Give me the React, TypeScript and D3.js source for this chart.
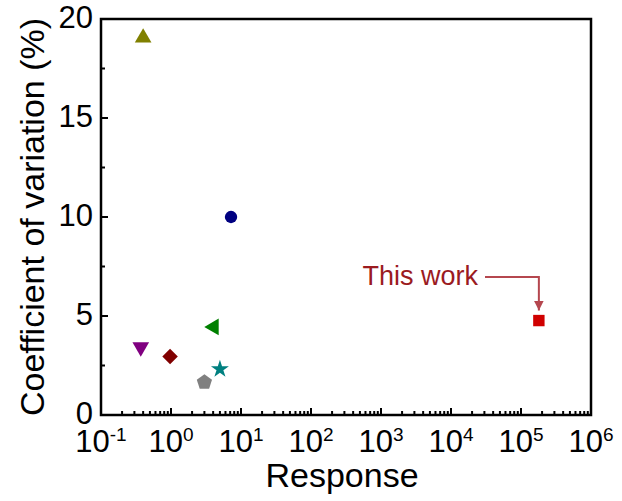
import React from "react";
import * as d3 from "d3";

// Reported coefficient of variation against response for each sensor
const responses = [0.4, 7.2, 4.1, 0.37, 0.97, 5.0, 3.0, 1.8e5];
const cvValues = [19.05, 10.0, 4.45, 3.43, 2.95, 2.32, 1.65, 4.77];
const shapes = ["triUp", "circle", "triLeft", "triDown", "diamond", "star", "pentagon", "square"];
const colors = ["#808000", "#000080", "#008000", "#800080", "#800000", "#008080", "#808080", "#d00000"];
const xDecades = [-1, 0, 1, 2, 3, 4, 5, 6];
const yTicks = [0, 5, 10, 15, 20];

const W = 622, H = 501;
const M = { left: 101, right: 591, top: 19, bottom: 415 };

const x = d3.scaleLog().domain([0.1, 1e6]).range([M.left, M.right]);
const y = d3.scaleLinear().domain([0, 20]).range([M.bottom, M.top]);

function pentagonPath(r: number) {
  const pts = d3.range(5).map((i) => {
    const a = -Math.PI / 2 + (i * 2 * Math.PI) / 5;
    return [r * Math.cos(a), r * Math.sin(a)];
  });
  return "M" + pts.map((p) => p.join(",")).join("L") + "Z";
}

function markerPath(shape: string) {
  switch (shape) {
    case "circle":
      return { d: d3.symbol(d3.symbolCircle, 120)()!, rot: 0 };
    case "triUp":
      return { d: d3.symbol(d3.symbolTriangle, 120)()!, rot: 0 };
    case "triDown":
      return { d: d3.symbol(d3.symbolTriangle, 120)()!, rot: 180 };
    case "triLeft":
      return { d: d3.symbol(d3.symbolTriangle, 120)()!, rot: -90 };
    case "diamond":
      return { d: d3.symbol(d3.symbolSquare, 120)()!, rot: 45 };
    case "star":
      return { d: d3.symbol(d3.symbolStar, 100)()!, rot: 0 };
    case "pentagon":
      return { d: pentagonPath(8), rot: 0 };
    default:
      return { d: d3.symbol(d3.symbolSquare, 130)()!, rot: 0 };
  }
}

export default function App() {
  const font = "'Liberation Sans', Arial, sans-serif";
  const minorX: number[] = [];
  for (let e = -1; e < 6; e++) for (let k = 2; k <= 9; k++) minorX.push(k * Math.pow(10, e));
  const minorY = [2.5, 7.5, 12.5, 17.5];

  const sx = x(1.8e5);
  const sy = y(4.77);
  const lineY = 277;

  return (
    <svg width={W} height={H} style={{ position: "absolute", left: 0, top: 0, background: "#fff" }}>
      <defs>
        <marker
          id="arrowHead"
          viewBox="0 0 10 10"
          refX="10"
          refY="5"
          markerWidth="10"
          markerHeight="10"
          markerUnits="userSpaceOnUse"
          orient="auto"
        >
          <path d="M0,0L10,5L0,10Z" fill="#b5474f" />
        </marker>
      </defs>
      {/* ticks */}
      <g stroke="#000" strokeWidth={2}>
        {xDecades.map((e) => (
          <line key={"xM" + e} x1={x(Math.pow(10, e))} x2={x(Math.pow(10, e))} y1={M.bottom} y2={M.bottom - 7} />
        ))}
        {minorX.map((v, i) => (
          <line key={"xm" + i} x1={x(v)} x2={x(v)} y1={M.bottom} y2={M.bottom - 4} />
        ))}
        {yTicks.map((v) => (
          <line key={"yM" + v} x1={M.left} x2={M.left + 7} y1={y(v)} y2={y(v)} />
        ))}
        {minorY.map((v) => (
          <line key={"ym" + v} x1={M.left} x2={M.left + 4} y1={y(v)} y2={y(v)} />
        ))}
      </g>
      <rect x={M.left} y={M.top} width={M.right - M.left} height={M.bottom - M.top} fill="none" stroke="#000" strokeWidth={2.5} />
      {/* tick labels */}
      <g fontFamily={font} fontSize={31} fill="#000">
        {yTicks.map((v) => (
          <text key={"yl" + v} x={M.left - 8} y={y(v) + 9} textAnchor="end">
            {v}
          </text>
        ))}
        {xDecades.map((e) => (
          <text key={"xl" + e} x={x(Math.pow(10, e))} y={452} textAnchor="middle">
            10
            <tspan dy={-11} fontSize={19}>
              {e}
            </tspan>
          </text>
        ))}
      </g>
      <text x={(M.left + M.right) / 2 - 4} y={487} textAnchor="middle" fontFamily={font} fontSize={34} fill="#000">
        Response
      </text>
      <text
        transform={`translate(44,${(M.top + M.bottom) / 2}) rotate(-90)`}
        textAnchor="middle"
        fontFamily={font}
        fontSize={34}
        fill="#000"
      >
        Coefficient of variation (%)
      </text>
      {/* markers */}
      {responses.map((r, i) => {
        const m = markerPath(shapes[i]);
        return (
          <path
            key={i}
            d={m.d}
            fill={colors[i]}
            transform={`translate(${x(r)},${y(cvValues[i])}) rotate(${m.rot})`}
          />
        );
      })}
      {/* annotation */}
      <text x={478} y={285} textAnchor="end" fontFamily={font} fontSize={27} fill="#9b1b1f">
        This work
      </text>
      <path
        d={`M${485},${lineY}H${sx}V${sy - 10}`}
        fill="none"
        stroke="#b5474f"
        strokeWidth={2}
        markerEnd="url(#arrowHead)"
      />
    </svg>
  );
}
